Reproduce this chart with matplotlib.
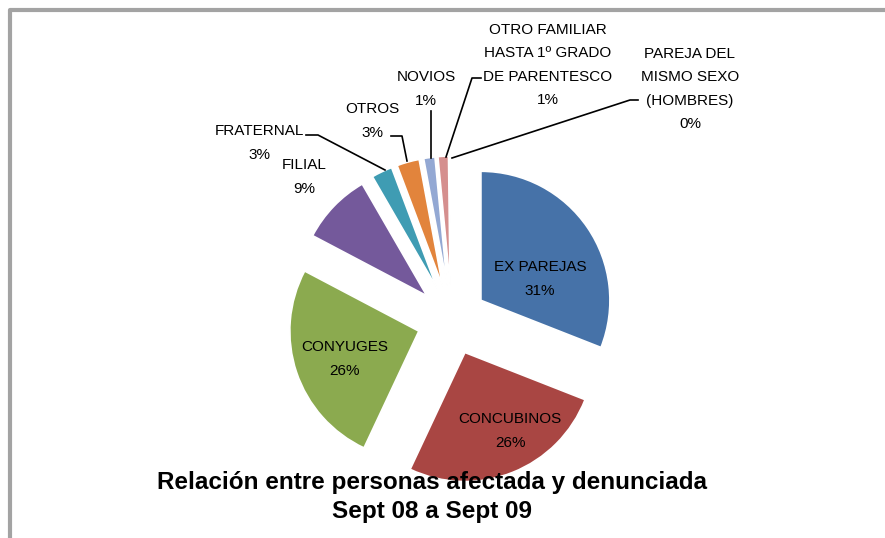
import matplotlib
matplotlib.use("Agg")
import matplotlib.pyplot as plt

# Datos (porcentajes aproximados)
categorias = [
    "EX PAREJAS",
    "CONCUBINOS",
    "CONYUGES",
    "FILIAL",
    "FRATERNAL",
    "OTROS",
    "NOVIOS",
    "OTRO FAMILIAR\nHASTA 1º GRADO\nDE PARENTESCO",
    "PAREJA DEL\nMISMO SEXO\n(HOMBRES)",
]
valores = [30.8, 25.9, 25.6, 8.9, 2.6, 2.8, 1.4, 1.3, 0.2]
etiquetas_pct = ["31%", "26%", "26%", "9%", "3%", "3%", "1%", "1%", "0%"]
colores = ["#4672A8", "#A94643", "#8BAA4F", "#74599B", "#3F9CB3",
           "#E2843C", "#93A8D3", "#D58F8E", "#C8C8C8"]

titulo = "Relación entre personas afectada y denunciada\nSept 08 a Sept 09"

W, H = 885, 538
plt.rcParams["font.family"] = ["Liberation Sans", "DejaVu Sans"]

fig = plt.figure(figsize=(W / 100, H / 100), dpi=100)
ax = fig.add_axes([0, 0, 1, 1])


def py(y):
    # coordenadas en pixeles con origen arriba
    return H - y


# tarta con todas las porciones separadas
centro = (452, py(320))
ax.pie(
    valores,
    colors=colores,
    startangle=90,
    counterclock=False,
    radius=129,
    center=centro,
    explode=[35] * len(valores),
    wedgeprops=dict(edgecolor="white", linewidth=1.2),
)
ax.set_xlim(0, W)
ax.set_ylim(0, H)
ax.set_aspect("equal")
ax.axis("off")

# marco gris
ax.plot([10, 10, W], [0, py(9.5), py(9.5)], color="#a3a3a3", lw=3, solid_capstyle="butt")

fs = 11
ls = 1.85
# etiquetas interiores
interiores = [(0, 540, 279), (1, 510, 431), (2, 345, 359)]
for i, x, y in interiores:
    ax.text(x, py(y), categorias[i] + "\n" + etiquetas_pct[i], ha="center", va="center",
            fontsize=fs, linespacing=ls)

# etiquetas exteriores con líneas guía
exteriores = [
    (3, 304, 177, None),
    (4, 259, 143, [(306, 135), (318, 135), (385, 170)]),
    (5, 372, 121, [(391, 136), (402, 136), (407, 161)]),
    (6, 426, 89, [(431, 111), (431, 158)]),
    (7, 548, 65, [(481, 78), (472, 78), (446, 157)]),
    (8, 690, 89, [(638, 100), (630, 100), (452, 158)]),
]
for i, x, y, guia in exteriores:
    ax.text(x, py(y), categorias[i] + "\n" + etiquetas_pct[i], ha="center", va="center",
            fontsize=fs, linespacing=ls)
    if guia:
        gx = [p[0] for p in guia]
        gy = [py(p[1]) for p in guia]
        ax.plot(gx, gy, color="black", lw=1.2)

# título
ax.text(432, py(497), titulo, ha="center", va="center", fontsize=17.5,
        fontweight="bold", linespacing=1.35)

fig.savefig("out.png", dpi=100, facecolor="white")
